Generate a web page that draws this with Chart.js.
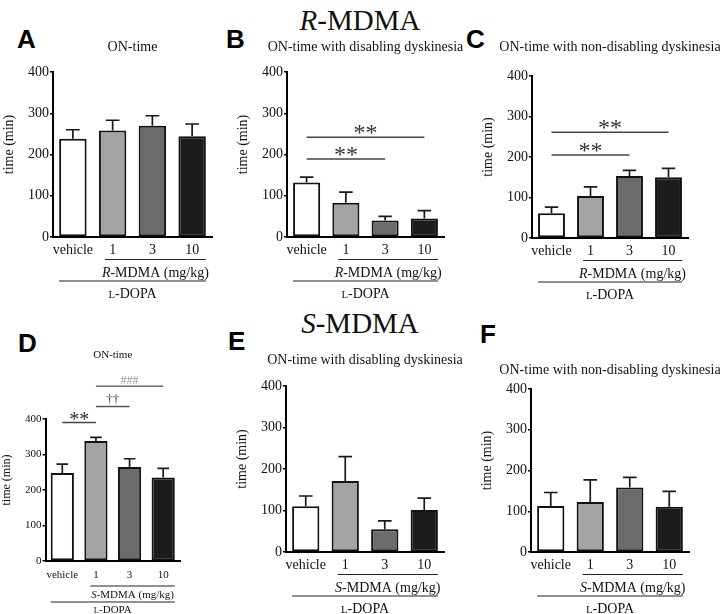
<!DOCTYPE html>
<html><head><meta charset="utf-8">
<script src="https://cdn.jsdelivr.net/npm/chart.js@4.4.1/dist/chart.umd.min.js"></script>
<style>
html,body{margin:0;padding:0;background:#fff;}
body{width:720px;height:614px;position:relative;overflow:hidden;font-family:"Liberation Serif","Times New Roman",serif;color:#111;}
canvas{position:absolute;}
.big{position:absolute;left:0;width:720px;text-align:center;font-size:29px;line-height:29px;color:#111;}
.letter{position:absolute;font-family:"Liberation Sans",Arial,sans-serif;font-weight:bold;font-size:26px;line-height:26px;color:#000;}
</style>
</head><body>
<div class="big" style="top:6px"><i>R</i>-MDMA</div>
<div class="big" style="top:309px"><i>S</i>-MDMA</div>
<div class="letter" style="left:17px;top:26px">A</div>
<div class="letter" style="left:226px;top:26px">B</div>
<div class="letter" style="left:466px;top:26px">C</div>
<div class="letter" style="left:18px;top:330px">D</div>
<div class="letter" style="left:228px;top:328px">E</div>
<div class="letter" style="left:480px;top:321px">F</div>
<script>
// ---- data ----
const categories = ['vehicle', '1', '3', '10'];
const yTickValues = [0, 100, 200, 300, 400];
const barColors = ['#ffffff', '#a3a3a3', '#6b6b6b', '#1c1c1c'];
const yAxisTitle = 'time (min)';
const groupLabelRest = '-MDMA (mg/kg)';
const dopaLabel = ['L', '-DOPA'];

const meanA = [238, 258, 270, 244];
const semA  = [22, 25, 24, 30];
const meanB = [132, 83, 40, 45];
const semB  = [13, 26, 10, 19];
const meanC = [61, 104, 153, 150];
const semC  = [15, 22, 14, 22];
const meanD = [248, 338, 265, 235];
const semD  = [25, 10, 23, 26];
const meanE = [110, 171, 55, 101];
const semE  = [25, 59, 20, 29];
const meanF = [113, 123, 158, 111];
const semF  = [33, 54, 25, 38];

const sigB = [{from:0, to:3, level:242, label:'**'}, {from:0, to:2, level:189, label:'**'}];
const sigC = [{from:0, to:3, level:261, label:'**'}, {from:0, to:2, level:205, label:'**'}];
const sigD = [{from:0, to:1, level:390, label:'**'}, {from:1, to:2, level:435, label:'††'}, {from:1, to:3, level:492, label:'###'}];

const titleOn = 'ON-time';
const titleDis = 'ON-time with disabling dyskinesia';
const titleNon = 'ON-time with non-disabling dyskinesia';

// ---- layout / style per panel ----
const SERIF = '"Liberation Serif", "Times New Roman", serif';
const panels = [
  {mean:meanA, sem:semA, sig:[],   title:titleOn,  drug:'R', box:[0,30,240,280],   padTop:42, padRight:28, yW:53,   xH:73, titleDy:-25, small:false},
  {mean:meanB, sem:semB, sig:sigB, title:titleDis, drug:'R', box:[225,30,255,280], padTop:42, padRight:36, yW:62,   xH:73, titleDy:-25, small:false},
  {mean:meanC, sem:semC, sig:sigC, title:titleNon, drug:'R', box:[470,30,250,280], padTop:46, padRight:32, yW:62,   xH:72, titleDy:-29, small:false},
  {mean:meanD, sem:semD, sig:sigD, title:titleOn,  drug:'S', box:[0,340,240,274],  padTop:79, padRight:60, yW:45.5, xH:53, titleDy:-64, small:true},
  {mean:meanE, sem:semE, sig:[],   title:titleDis, drug:'S', box:[225,340,255,274],padTop:46, padRight:36, yW:61,   xH:62, titleDy:-26, small:false},
  {mean:meanF, sem:semF, sig:[],   title:titleNon, drug:'S', box:[470,340,250,274],padTop:49, padRight:31, yW:61,   xH:62, titleDy:-19, small:false}
];

const annotPlugin = {
  id: 'annot',
  afterDatasetsDraw(chart) {
    const p = chart.options.plugins.annot.panel;
    const ctx = chart.ctx;
    const ys = chart.scales.y;
    const bars = chart.getDatasetMeta(0).data;
    ctx.save();
    ctx.strokeStyle = '#1a1a1a';
    ctx.lineWidth = 1.7;
    bars.forEach((b, i) => {
      const yMean = ys.getPixelForValue(p.mean[i]);
      const yTop = ys.getPixelForValue(p.mean[i] + p.sem[i]);
      const hw = b.width / 4;
      ctx.beginPath();
      ctx.moveTo(b.x, yMean);
      ctx.lineTo(b.x, yTop);
      ctx.moveTo(b.x - hw, yTop);
      ctx.lineTo(b.x + hw, yTop);
      ctx.stroke();
    });
    ctx.restore();
  },
  afterDraw(chart) {
    const p = chart.options.plugins.annot.panel;
    const ctx = chart.ctx;
    const a = chart.chartArea;
    const xs = chart.scales.x, ys = chart.scales.y;
    const bars = chart.getDatasetMeta(0).data;
    const fs = p.small ? 11 : 14;
    const cx = (a.left + a.right) / 2;
    ctx.save();
    ctx.fillStyle = '#111';
    // panel title
    ctx.font = `${p.small ? 11 : 14}px ${SERIF}`;
    ctx.textAlign = 'center';
    ctx.textBaseline = 'middle';
    ctx.fillText(p.title, cx, a.top + p.titleDy);
    // y title
    ctx.save();
    ctx.font = `${p.small ? 12 : 14}px ${SERIF}`;
    ctx.translate(a.left + (p.small ? -39 : -44), (a.top + a.bottom) / 2 - 10);
    ctx.rotate(-Math.PI / 2);
    ctx.fillText(yAxisTitle, 0, 0);
    ctx.restore();
    // significance
    p.sig.forEach(s => {
      const x1 = xs.getPixelForValue(s.from), x2 = xs.getPixelForValue(s.to);
      const yy = ys.getPixelForValue(s.level);
      let col = '#444', tcol = '#333', size = 24, gap = 3;
      if (s.label === '††') { col = '#555'; tcol = '#444'; size = 13; gap = 2; }
      if (s.label === '###') { col = '#666'; tcol = '#999'; size = 12; gap = 2; }
      if (p.small && s.label === '**') { size = 20; }
      ctx.strokeStyle = col;
      ctx.lineWidth = 1.5;
      ctx.beginPath(); ctx.moveTo(x1, yy); ctx.lineTo(x2, yy); ctx.stroke();
      ctx.font = `${size}px ${SERIF}`;
      ctx.fillStyle = tcol;
      ctx.textAlign = 'center';
      ctx.textBaseline = 'alphabetic';
      const m = ctx.measureText(s.label);
      ctx.fillText(s.label, (x1 + x2) / 2, yy - gap - m.actualBoundingBoxDescent);
    });
    // group lines
    const o = p.small ? {l1:25, t1:33, l2:41, t2:48} : {l1:22.5, t1:35, l2:44, t2:56};
    const bw = bars[0].width;
    const g1a = bars[1].x - bw / 2 + 6, g1b = bars[3].x + bw / 2;
    const g2a = bars[0].x - bw / 2, g2b = bars[3].x + bw / 2;
    ctx.strokeStyle = '#222';
    ctx.lineWidth = 1.2;
    ctx.beginPath();
    ctx.moveTo(g1a, a.bottom + o.l1); ctx.lineTo(g1b, a.bottom + o.l1);
    ctx.moveTo(g2a, a.bottom + o.l2); ctx.lineTo(g2b, a.bottom + o.l2);
    ctx.stroke();
    ctx.fillStyle = '#111';
    ctx.textAlign = 'left';
    ctx.textBaseline = 'alphabetic';
    // drug label
    ctx.font = `italic ${fs}px ${SERIF}`;
    const w1 = ctx.measureText(p.drug).width;
    ctx.font = `${fs}px ${SERIF}`;
    const w2 = ctx.measureText(groupLabelRest).width;
    let sx = (g1a + g1b) / 2 - (w1 + w2) / 2;
    const b1 = a.bottom + o.t1 + fs * 0.33;
    ctx.font = `italic ${fs}px ${SERIF}`;
    ctx.fillText(p.drug, sx, b1);
    ctx.font = `${fs}px ${SERIF}`;
    ctx.fillText(groupLabelRest, sx + w1, b1);
    // L-DOPA with small-cap L
    const sfs = fs * 0.78;
    ctx.font = `${sfs}px ${SERIF}`;
    const wl = ctx.measureText(dopaLabel[0]).width;
    ctx.font = `${fs}px ${SERIF}`;
    const wr = ctx.measureText(dopaLabel[1]).width;
    sx = (g2a + g2b) / 2 - (wl + wr) / 2;
    const b2 = a.bottom + o.t2 + fs * 0.33;
    ctx.font = `${sfs}px ${SERIF}`;
    ctx.fillText(dopaLabel[0], sx, b2);
    ctx.font = `${fs}px ${SERIF}`;
    ctx.fillText(dopaLabel[1], sx + wl, b2);
    ctx.restore();
  }
};

panels.forEach(p => {
  const c = document.createElement('canvas');
  c.width = p.box[2]; c.height = p.box[3];
  c.style.left = p.box[0] + 'px'; c.style.top = p.box[1] + 'px';
  c.style.width = p.box[2] + 'px'; c.style.height = p.box[3] + 'px';
  document.body.appendChild(c);
  const tfs = p.small ? 11 : 14;
  new Chart(c, {
    type: 'bar',
    data: {
      labels: categories,
      datasets: [{
        data: p.mean,
        backgroundColor: barColors,
        borderColor: '#111',
        borderWidth: 2,
        borderSkipped: false,
        barPercentage: 0.69,
        categoryPercentage: 1
      }]
    },
    options: {
      responsive: false,
      animation: false,
      devicePixelRatio: 1,
      layout: {padding: {top: p.padTop, right: p.padRight, bottom: 0, left: 0}},
      plugins: {legend: {display: false}, tooltip: {enabled: false}, annot: {panel: p}},
      scales: {
        x: {
          offset: true,
          grid: {display: false, drawTicks: false},
          border: {display: true, color: '#000', width: 2},
          ticks: {color: '#111', font: {family: SERIF, size: tfs}, padding: p.small ? 8 : 4.5, maxRotation: 0, autoSkip: false},
          afterFit: s => { s.height = p.xH; }
        },
        y: {
          min: 0, max: 400,
          afterBuildTicks: s => { s.ticks = yTickValues.map(v => ({value: v})); },
          ticks: {color: '#111', font: {family: SERIF, size: tfs}, padding: 1},
          grid: {drawOnChartArea: false, drawTicks: true, tickLength: 3, tickColor: '#000', color: '#000', lineWidth: 1.5},
          border: {display: true, color: '#000', width: 2},
          afterFit: s => { s.width = p.yW; }
        }
      }
    },
    plugins: [annotPlugin]
  });
});
</script>
</body></html>
